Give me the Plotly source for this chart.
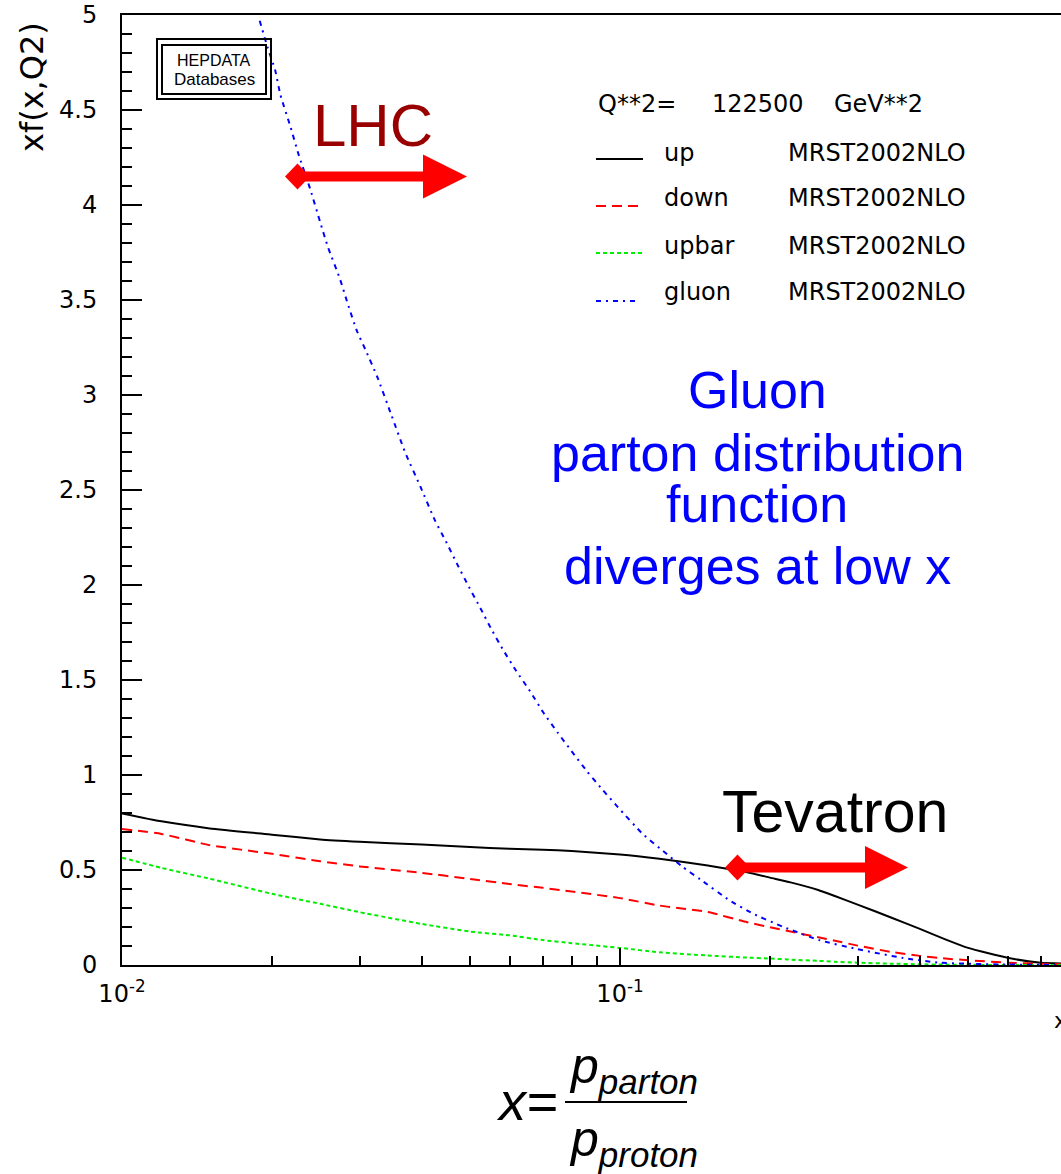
import plotly.graph_objects as go

# ---------------- data ----------------
x_grid = [0.01, 0.012, 0.015, 0.02, 0.025, 0.03, 0.04, 0.05, 0.06, 0.07, 0.08,
          0.1, 0.12, 0.15, 0.18, 0.2, 0.22, 0.25, 0.27, 0.3, 0.35, 0.4, 0.45, 0.5,
          0.6, 0.7, 0.77]
up = [0.798, 0.756, 0.719, 0.686, 0.661, 0.649, 0.634, 0.621, 0.612, 0.607, 0.600,
      0.582, 0.559, 0.524, 0.488, 0.460, 0.435, 0.395, 0.363, 0.318, 0.250, 0.190,
      0.135, 0.090, 0.038, 0.012, 0.008]
down = [0.716, 0.690, 0.631, 0.585, 0.546, 0.519, 0.485, 0.453, 0.426, 0.406, 0.387,
        0.352, 0.313, 0.279, 0.225, 0.199, 0.176, 0.146, 0.128, 0.102, 0.069, 0.048,
        0.034, 0.025, 0.012, 0.007, 0.004]
upbar = [0.565, 0.511, 0.454, 0.375, 0.322, 0.278, 0.216, 0.176, 0.156, 0.131, 0.115,
         0.090, 0.067, 0.050, 0.039, 0.034, 0.028, 0.022, 0.017, 0.012, 0.007, 0.004,
         0.002, 0.001, 0.0, 0.0, 0.0]
gluon_x = [0.0189, 0.0196, 0.0203, 0.0208, 0.0218, 0.0226, 0.0239, 0.0250, 0.0259,
           0.0274, 0.0284, 0.0296, 0.0308, 0.0325, 0.0348, 0.0370, 0.0397, 0.0425,
           0.0447, 0.0471, 0.0495, 0.0524, 0.0551, 0.0582, 0.0618, 0.0660, 0.0701,
           0.0751, 0.0797, 0.0858, 0.0924, 0.0991, 0.111, 0.122, 0.133, 0.145, 0.166,
           0.185, 0.213, 0.252, 0.299, 0.370, 0.439, 0.580, 0.768]
gluon_y = [4.97, 4.83, 4.71, 4.58, 4.41, 4.27, 4.08, 3.91, 3.78, 3.61, 3.48, 3.34,
           3.24, 3.10, 2.89, 2.70, 2.52, 2.34, 2.23, 2.11, 2.00, 1.88, 1.77, 1.66,
           1.55, 1.44, 1.33, 1.22, 1.13, 1.02, 0.92, 0.83, 0.69, 0.60, 0.52, 0.45,
           0.34, 0.27, 0.20, 0.13, 0.084, 0.037, 0.012, 0.003, 0.0]

series_names = ["up", "down", "upbar", "gluon"]
pdf_set = "MRST2002NLO"
q2_label = ["Q**2=", "122500", "GeV**2"]
y_ticks = [0, 0.5, 1, 1.5, 2, 2.5, 3, 3.5, 4, 4.5, 5]
x_major = [0.01, 0.1]
x_major_text = ["10<sup>-2</sup>", "10<sup>-1</sup>"]
x_minor = [0.02, 0.03, 0.04, 0.05, 0.06, 0.07, 0.08, 0.09, 0.2, 0.3, 0.4, 0.5, 0.6, 0.7]
blue_lines = ["Gluon", "parton distribution", "function", "diverges at low x"]

# ---------------- layout helpers (pixel -> paper) ----------------
W, H = 1061, 1174
L, T, R, B = 122, 15, 1061, 965


def px(x):
    return (x - L) / (R - L)


def py(y):
    return (B - y) / (B - T)


def note(text, x, y, size, color="black", family="DejaVu Sans", xanchor="center", **kw):
    return dict(text=text, x=px(x), y=py(y), xref="paper", yref="paper",
                xanchor=xanchor, yanchor="middle", showarrow=False,
                font=dict(family=family, size=size, color=color), **kw)


fig = go.Figure()

fig.add_trace(go.Scatter(x=x_grid, y=up, mode="lines", name="up",
                         line=dict(color="black", width=2, shape="spline", smoothing=0.5)))
fig.add_trace(go.Scatter(x=x_grid, y=down, mode="lines", name="down",
                         line=dict(color="#ff0000", width=2, dash="10px,6px",
                                   shape="spline", smoothing=0.5)))
fig.add_trace(go.Scatter(x=x_grid, y=upbar, mode="lines", name="upbar",
                         line=dict(color="#00ee00", width=2, dash="4px,3px",
                                   shape="spline", smoothing=0.5)))
fig.add_trace(go.Scatter(x=gluon_x, y=gluon_y, mode="lines", name="gluon",
                         line=dict(color="#0000ff", width=2, dash="5px,5px,2px,5px",
                                   shape="spline", smoothing=0.5)))

shapes = []
annotations = []

# HEPDATA logo box
for (x0, y0, x1, y1) in [(157, 39, 271, 99), (162, 45, 266, 94)]:
    shapes.append(dict(type="rect", xref="paper", yref="paper",
                       x0=px(x0), x1=px(x1), y0=py(y1), y1=py(y0),
                       line=dict(color="black", width=2), fillcolor="rgba(0,0,0,0)"))
annotations.append(note("HEPDATA", 214, 60, 16, family="Liberation Sans"))
annotations.append(note("Databases", 214, 80, 17, family="Liberation Sans"))

# legend block
annotations.append(note(q2_label[0], 596, 104, 24, xanchor="left"))
annotations.append(note(q2_label[1], 710, 104, 24, xanchor="left"))
annotations.append(note(q2_label[2], 832, 104, 24, xanchor="left"))
row_y = [153, 198, 246, 292]
line_y = [159, 206, 253, 301]
styles = [("black", "solid", 643), ("#ff0000", "10px,6px", 643),
          ("#00ee00", "4px,3px", 643), ("#0000ff", "5px,5px,2px,5px", 638)]
for name, ry, ly, (col, dsh, xe) in zip(series_names, row_y, line_y, styles):
    shapes.append(dict(type="line", xref="paper", yref="paper", x0=px(596), x1=px(xe),
                       y0=py(ly), y1=py(ly), line=dict(color=col, width=2, dash=dsh)))
    annotations.append(note(name, 662, ry, 24, xanchor="left"))
    annotations.append(note(pdf_set, 786, ry, 24, xanchor="left"))


# arrows
def add_arrow(xd, xb, xt, yc, hh):
    d = 12.5
    shapes.append(dict(type="path", xref="paper", yref="paper",
                       path=f"M {px(xd - d)} {py(yc)} L {px(xd)} {py(yc - 13)} L {px(xd + d)} {py(yc)} "
                            f"L {px(xd)} {py(yc + 13)} Z",
                       fillcolor="#ff0000", line=dict(width=0)))
    shapes.append(dict(type="rect", xref="paper", yref="paper", x0=px(xd), x1=px(xb + 2),
                       y0=py(yc + 5), y1=py(yc - 5), fillcolor="#ff0000", line=dict(width=0)))
    shapes.append(dict(type="path", xref="paper", yref="paper",
                       path=f"M {px(xb)} {py(yc - hh)} L {px(xt)} {py(yc)} L {px(xb)} {py(yc + hh)} Z",
                       fillcolor="#ff0000", line=dict(width=0)))


add_arrow(297.5, 423, 467, 176.5, 22)
add_arrow(737.5, 865, 908, 867.5, 21.5)

annotations.append(note("LHC", 372.5, 125, 60, color="#990000", family="Liberation Sans"))
annotations.append(note("Tevatron", 835, 812, 59, family="Liberation Sans"))

for txt, yc in zip(blue_lines, [390, 453, 504, 566]):
    annotations.append(note(txt, 757, yc, 52, color="#0000ff", family="Liberation Sans"))

# y axis title
annotations.append(note("xf(x,Q2)", 32, 87, 32, textangle=-90))
# x axis title at the axis end
annotations.append(note("x", 1052, 1020, 22, xanchor="left"))

# formula x = p_parton / p_proton
annotations.append(note("<i>x=</i>", 527, 1101, 54, family="Liberation Sans"))
annotations.append(note("<i>p<sub>parton</sub></i>", 567, 1069, 50, family="Liberation Sans",
                        xanchor="left"))
annotations.append(note("<i>p<sub>proton</sub></i>", 567, 1142, 50, family="Liberation Sans",
                        xanchor="left"))
shapes.append(dict(type="line", xref="paper", yref="paper", x0=px(565), x1=px(687),
                   y0=py(1102), y1=py(1102), line=dict(color="black", width=2)))

fig.update_layout(
    width=W, height=H,
    margin=dict(l=L, r=W - R, t=T, b=H - B, pad=0),
    paper_bgcolor="white", plot_bgcolor="white",
    showlegend=False,
    shapes=shapes, annotations=annotations,
    xaxis=dict(type="log", range=[-2, -0.1145], showgrid=False, zeroline=False,
               showline=True, linecolor="black", linewidth=2, mirror=True,
               ticks="inside", ticklen=17, tickwidth=2, tickcolor="black",
               tickvals=x_major, ticktext=x_major_text, ticklabelstandoff=6,
               tickfont=dict(family="DejaVu Sans", size=24, color="black"),
               minor=dict(tickvals=x_minor, ticks="inside", ticklen=9, tickwidth=2,
                          tickcolor="black", showgrid=False)),
    yaxis=dict(range=[0, 5], showgrid=False, zeroline=False,
               showline=True, linecolor="black", linewidth=2, mirror=False,
               ticks="inside", ticklen=20, tickwidth=2, tickcolor="black",
               tickvals=y_ticks, ticklabelstandoff=18,
               tickfont=dict(family="DejaVu Sans", size=24, color="black"),
               minor=dict(dtick=0.1, ticks="inside", ticklen=10, tickwidth=2,
                          tickcolor="black", showgrid=False)),
)

fig.write_html("out.html")
